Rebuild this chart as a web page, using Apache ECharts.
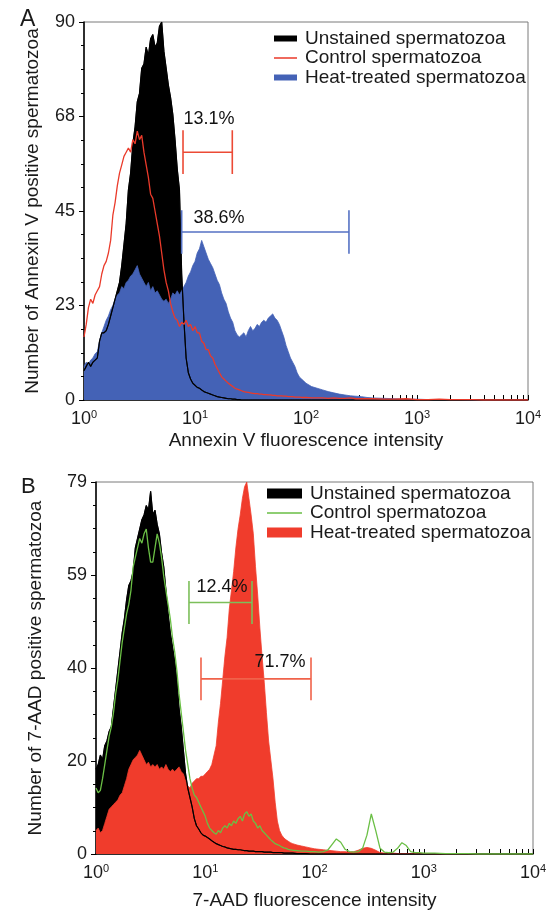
<!DOCTYPE html>
<html>
<head>
<meta charset="utf-8">
<script src="https://cdn.jsdelivr.net/npm/echarts@6/dist/echarts.min.js"></script>
<style>
  html, body { margin: 0; padding: 0; background: #fff; }
  #chart { width: 553px; height: 911px; }
</style>
</head>
<body>
<div id="chart"></div>
<script>
// x values are log10 of the fluorescence intensity (channel position)
var chanA = [
  0.00,0.02,0.04,0.06,0.08,0.10,0.12,0.14,0.16,0.18,
  0.20,0.22,0.24,0.26,0.28,0.30,0.32,0.34,0.36,0.38,
  0.40,0.42,0.44,0.46,0.48,0.50,0.52,0.54,0.56,0.58,
  0.60,0.62,0.64,0.66,0.68,0.70,0.72,0.74,0.76,0.78,
  0.80,0.82,0.84,0.86,0.88,0.90,0.92,0.94,0.96,0.98,
  1.00,1.02,1.04,1.06,1.08,1.10,1.12,1.14,1.16,1.18,
  1.20,1.22,1.24,1.26,1.28,1.30,1.32,1.34,1.36,1.38,
  1.40,1.42,1.44,1.46,1.48,1.50,1.52,1.54,1.56,1.58,
  1.60,1.62,1.64,1.66,1.68,1.70,1.72,1.74,1.76,1.78,
  1.80,1.82,1.84,1.86,1.88,1.90,1.92,1.94,1.96,1.98,
  2.00,2.05,2.10,2.15,2.20,2.25,2.30,2.35,2.40,2.45,
  2.50,2.55,2.60,2.70,2.80,2.90,3.00,3.10,3.20,3.30,
  3.40,3.50,3.60,3.70,3.80,3.90,4.00
];
var unstainedA = [
  7,8,9,8,9,9.5,10,14,16,16,
  16.5,18,20,22,24,26,28,32,37,42,
  50,54,61,65,71,73,79,80,84,82,
  86,87,84,85,89,90,83,79,75,72,
  68,62,55,50,30,19,10,6.5,5,4,
  3.5,3,2.8,2.4,2,1.8,1.6,1.4,1.2,1,
  0.8,0.7,0.6,0.5,0.4,0.3,0.3,0.2,0.2,0.1,
  0.1,0,0,0,0,0,0,0,0,0,
  0,0,0,0,0,0,0,0,0,0,
  0,0,0,0,0,0,0,0,0,0,
  0,0,0,0,0,0,0,0,0,0,
  0,0,0,0,0,0,0,0,0,0,
  0,0,0,0,0,0,0
];
var controlA = [
  15,18,22,24,23,25,26,27,30,32,
  33,35,38,44,47,51,54,56,58,59,
  60,59,62,61,64,62,63,59,56,53,
  49,48,45,42,39,35,31,28,26,23,
  21,19.5,19,17.5,18.5,18,19,17.5,18,16.5,
  17.5,16,16,14,13.5,12,12,10.5,10,8.5,
  7.5,6.5,5.5,5,4.5,4,3.6,3.2,2.8,2.6,
  2.4,2.2,2,1.9,1.8,1.7,1.6,1.5,1.5,1.4,
  1.4,1.3,1.3,1.2,1.2,1.1,1.1,1,1,1,
  0.9,0.9,0.8,0.8,0.8,0.7,0.7,0.7,0.6,0.6,
  0.6,0.5,0.5,0.5,0.4,0.5,0.4,0.4,0.5,0.3,
  0.3,0.3,0.3,0.2,0.2,0.3,0.1,0.1,0.2,0.1,
  0.1,0.1,0,0,0,0,0
];
var heatA = [
  8,9,8.5,9.5,10,11,11.5,14,16,17.5,
  19,20,21.5,22.5,24,25,25.5,27,26.5,28,
  28.5,29.5,30,31,32,30,29,28,27,28,
  26,27,25.5,26,25,24,23.5,24,23,24,
  25.5,25,26,25,26,27,28,29.5,30.5,32,
  33,35,36,38,36.5,35,33.5,32.5,31.5,30,
  28.5,27.5,25.5,24,23,21,19.5,18.5,16.5,15.5,
  15,15.5,16,15,16.5,17.5,16.5,17,18,17.5,
  18.5,19,18.5,19.5,20,20.5,19.5,19,18,16.5,
  15,13,11.5,10,9,8,6.5,5.5,5,4.5,
  4,3.2,2.8,2.4,2,1.7,1.4,1.2,1,0.9,
  0.8,0.6,0.5,0.4,0.3,0.2,0.2,0.1,0.1,0.1,
  0.1,0,0,0,0,0,0
];

var chanB = [
  0.00,0.02,0.04,0.06,0.08,0.10,0.12,0.14,0.16,0.18,
  0.20,0.22,0.24,0.26,0.28,0.30,0.32,0.34,0.36,0.38,
  0.40,0.42,0.44,0.46,0.48,0.50,0.52,0.54,0.56,0.58,
  0.60,0.62,0.64,0.66,0.68,0.70,0.72,0.74,0.76,0.78,
  0.80,0.82,0.84,0.86,0.88,0.90,0.92,0.94,0.96,0.98,
  1.00,1.02,1.04,1.06,1.08,1.10,1.12,1.14,1.16,1.18,
  1.20,1.22,1.24,1.26,1.28,1.30,1.32,1.34,1.36,1.38,
  1.40,1.42,1.44,1.46,1.48,1.50,1.52,1.54,1.56,1.58,
  1.60,1.62,1.64,1.66,1.68,1.70,1.72,1.74,1.76,1.78,
  1.80,1.84,1.88,1.92,1.96,2.00,2.04,2.08,2.12,2.16,
  2.20,2.24,2.28,2.32,2.36,2.40,2.44,2.48,2.52,2.56,
  2.60,2.64,2.68,2.72,2.76,2.80,2.84,2.88,2.92,2.96,
  3.00,3.10,3.20,3.30,3.40,3.50,3.60,3.70,3.80,3.90,
  4.00
];
var unstainedB = [
  18,19,21,20,23,24,26,27,31,35,
  39,43,47,50,54,57,58,60,65,67,
  69,71,72,74,73,77,72,73,70,68,
  64,61,56,51,47,44,41,37,31,27,
  22,17,14,12,10,7.5,6,5.3,4.5,4,
  3.8,3.5,3.2,2.8,2.5,2.2,2,1.8,1.6,1.5,
  1.3,1.2,1.1,1,1,0.9,0.9,0.8,0.7,0.7,
  0.6,0.6,0.6,0.5,0.5,0.5,0.5,0.4,0.4,0.4,
  0.4,0.3,0.3,0.3,0.3,0.3,0.2,0.2,0.2,0.2,
  0.2,0.1,0.1,0.1,0,0,0,0,0,0,
  0,0,0,0,0,0,0,0,0,0,
  0,0,0,0,0,0,0,0,0,0,
  0,0,0,0,0,0,0,0,0,0,
  0
];
var controlB = [
  14,13,13.5,16,19,22,25,27,30,34,
  37,41,45,48,51,53,56,61,63,65,
  67,66,68,69,65,62,62,65,68,66,
  63,59,56,53,50,46,43,39,34,30,
  26,22,19,16,14,12.5,12,11,10,9,
  8,6.5,5.5,5,4.5,4.2,5,4.5,5.5,6,
  5.5,6.5,6,7,6.5,7.5,8,7,8.5,9,
  8,8.5,7,6.5,5.5,6,5,4.5,4,3.5,
  3,2.6,2.2,2,1.8,1.5,1.3,1.2,1,0.9,
  0.8,0.7,0.6,0.6,0.5,0.5,0.4,0.5,0.8,2,
  3.2,2.5,1,0.5,0.4,0.5,1.2,4,8.5,5,
  1.2,0.4,0.3,0.4,1.2,2.4,1.8,0.5,0.3,0.3,
  0.2,0.2,0.1,0.1,0.1,0,0,0,0,0,
  0
];
var heatB = [
  5,5.5,4.5,5,6.5,8,9.5,10,10.5,11,
  11.5,12.5,13,14.5,16,18,19,20,20.5,21,
  22,21,20,19,19.5,18.5,19,18.5,19,18,
  18.5,18,19,18,17.5,18,17.5,18,18.5,17.5,
  17,15.5,14.5,14,15,15.5,16,16,16.5,16.5,
  17,17.5,18,19,21,23,28,32,37,42,
  46,52,56,60,65,69,72,75.5,78,79,
  75.5,72,68,61,55,48,42,36.5,30,24,
  20,16,11,7,5,4,3.4,3,2.7,2.4,
  2.2,1.9,1.7,1.5,1.3,1.1,1,0.9,0.8,0.7,
  0.6,0.5,0.5,0.4,0.5,0.8,1.2,1.4,1.2,0.8,
  0.3,0.2,0.2,0.2,0.1,0.1,0.1,0.1,0.1,0.1,
  0.1,0,0,0,0,0,0,0,0,0,
  0
];

// gates (log10 x, counts) and their percentages
var gateLeftA = [0.892, 0.880];
var gateRightA = [1.336, 2.387];
var gateLevelA = [59, 40];
var gateCapA = [5.2, 5.2];
var gateTextA = ['13.1%', '38.6%'];
var gateTextXA = [1.126, 1.216];
var gateTextYA = [66.9, 43.3];

var gateLeftB = [0.851, 0.961];
var gateRightB = [1.428, 1.968];
var gateLevelB = [53.4, 37.2];
var gateCapB = [4.55, 4.55];
var gateTextB = ['12.4%', '71.7%'];
var gateTextXB = [1.153, 1.684];
var gateTextYB = [56.6, 40.8];

var seriesLabels = ['Unstained spermatozoa', 'Control spermatozoa', 'Heat-treated spermatozoa'];
var xTickLabels = ['0', '1', '2', '3', '4'];
var yTicksA = ['0', '23', '45', '68', '90'];
var yTicksB = ['0', '20', '40', '59', '79'];

var FONT = 'Liberation Sans, Arial, Helvetica, sans-serif';
var TXT = '#1a1a1a';

// decade ticks plus 2..9 minor ticks of a log axis
var xTickValues = [];
for (var d = 0; d < 4; d++) {
  for (var k = 1; k <= 9; k++) xTickValues.push(d + Math.log10(k));
}
xTickValues.push(4);

function pairs(xs, ys) {
  return xs.map(function (x, i) { return [x, ys[i]]; });
}

function areaSeries(name, idx, xs, ys, color) {
  return {
    name: name, type: 'line', xAxisIndex: idx, yAxisIndex: idx,
    data: pairs(xs, ys), symbol: 'none', silent: true,
    lineStyle: { color: color, width: 0.8 },
    itemStyle: { color: color },
    areaStyle: { color: color, opacity: 1 }
  };
}

function lineSeries(name, idx, xs, ys, color, width) {
  return {
    name: name, type: 'line', xAxisIndex: idx, yAxisIndex: idx,
    data: pairs(xs, ys), symbol: 'none', silent: true,
    lineStyle: { color: color, width: width },
    itemStyle: { color: color }
  };
}

function gateSeries(idx, l, r, lvl, cap, color) {
  return {
    type: 'line', xAxisIndex: idx, yAxisIndex: idx, symbol: 'none', silent: true,
    data: [[l, lvl - cap], [l, lvl + cap], [l, lvl], [r, lvl], [r, lvl + cap], [r, lvl - cap]],
    lineStyle: { color: color, width: 1.6 }, z: 5
  };
}

function gateLabels(idx, texts, xs, ys) {
  return {
    type: 'scatter', xAxisIndex: idx, yAxisIndex: idx, silent: true, z: 6,
    symbolSize: 0, itemStyle: { color: '#000', opacity: 1 },
    data: texts.map(function (t, i) { return { name: t, value: [xs[i], ys[i]] }; }),
    label: {
      show: true, position: [0, 0], align: 'center', verticalAlign: 'middle',
      formatter: '{b}', fontFamily: FONT, fontSize: 18, color: '#111',
      textBorderWidth: 0, opacity: 1
    }
  };
}

function xAxisFor(idx, name, gap) {
  return {
    type: 'value', gridIndex: idx, min: 0, max: 4, interval: 1,
    name: name, nameLocation: 'middle', nameGap: gap,
    nameTextStyle: { fontFamily: FONT, fontSize: 19, color: TXT },
    axisLine: { show: true, onZero: false, lineStyle: { color: '#000', width: 1.5 } },
    axisTick: { show: true, inside: true, length: 5, customValues: xTickValues, lineStyle: { color: '#000' } },
    axisLabel: {
      margin: 9,
      formatter: function (v) { return '{b|10}{s|' + xTickLabels[Math.round(v)] + '}'; },
      rich: {
        b: { fontFamily: FONT, fontSize: 18, color: TXT, lineHeight: 20 },
        s: { fontFamily: FONT, fontSize: 11, color: TXT, lineHeight: 11, verticalAlign: 'top' }
      }
    },
    splitLine: { show: false }
  };
}

function yAxisFor(idx, name, gap, max, step, labels) {
  return {
    type: 'value', gridIndex: idx, min: 0, max: max, interval: step,
    name: name, nameLocation: 'middle', nameGap: gap,
    nameTextStyle: { fontFamily: FONT, fontSize: 19, color: TXT },
    axisLine: { show: true, onZero: false, lineStyle: { color: '#000', width: 1.5 } },
    axisTick: { show: true, length: 5, lineStyle: { color: '#000' } },
    minorTick: { show: true, splitNumber: 4, length: 3, lineStyle: { color: '#000' } },
    axisLabel: {
      margin: 9, fontFamily: FONT, fontSize: 18, color: TXT,
      formatter: function (v, i) { return labels[i]; }
    },
    splitLine: { show: false }
  };
}

// thin horizontal bar as the line-series legend icon (bbox padded to icon height)
function lineIcon(w, h) {
  var a = (h - 1.3) / 2, b = a + 1.3;
  return 'path://M0,0 L0.01,0 M0,' + a + ' L' + w + ',' + a + ' L' + w + ',' + b +
    ' L0,' + b + ' Z M' + w + ',' + h + ' L' + (w - 0.01) + ',' + h;
}

function legendFor(prefix, left, top, iw, ih) {
  return {
    left: left, top: top, orient: 'vertical', padding: 0, itemGap: 0.5,
    itemWidth: iw, itemHeight: ih, selectedMode: false,
    formatter: function (n) { return n.slice(prefix.length); },
    textStyle: { fontFamily: FONT, fontSize: 19, lineHeight: 19, color: TXT, padding: [0, 0, 0, 3] },
    data: [
      { name: prefix + seriesLabels[0], icon: 'rect' },
      { name: prefix + seriesLabels[1], icon: lineIcon(iw, ih) },
      { name: prefix + seriesLabels[2], icon: 'rect' }
    ]
  };
}

var nA = seriesLabels.map(function (s) { return 'A ' + s; });
var nB = seriesLabels.map(function (s) { return 'B ' + s; });

var chart = echarts.init(document.getElementById('chart'));
chart.setOption({
  animation: false,
  backgroundColor: '#fff',
  title: [
    { text: 'A', left: 15, top: 3, textStyle: { fontFamily: FONT, fontSize: 23, fontWeight: 'normal', color: TXT } },
    { text: 'B', left: 16, top: 471, textStyle: { fontFamily: FONT, fontSize: 22, fontWeight: 'normal', color: TXT } }
  ],
  grid: [
    { left: 84, top: 22, width: 444, height: 378, show: true, borderColor: '#7a7a7a', borderWidth: 1 },
    { left: 96, top: 482, width: 437, height: 374, show: true, borderColor: '#7a7a7a', borderWidth: 1 }
  ],
  legend: [
    legendFor('A ', 274, 29, 23, 6),
    legendFor('B ', 267, 484, 35, 10)
  ],
  xAxis: [
    xAxisFor(0, 'Annexin V fluorescence intensity', 31),
    xAxisFor(1, '7-AAD fluorescence intensity', 37)
  ],
  yAxis: [
    yAxisFor(0, 'Number of Annexin V positive spermatozoa', 42, 90, 22.5, yTicksA),
    yAxisFor(1, 'Number of 7-AAD positive spermatozoa', 51, 79, 19.75, yTicksB)
  ],
  series: [
    areaSeries(nA[0], 0, chanA, unstainedA, '#000000'),
    areaSeries(nA[2], 0, chanA, heatA, '#4462b6'),
    lineSeries(nA[0], 0, chanA, unstainedA, '#000000', 1.2),
    lineSeries(nA[1], 0, chanA, controlA, '#ea3a2a', 1.3),
    gateSeries(0, gateLeftA[0], gateRightA[0], gateLevelA[0], gateCapA[0], '#ec4a35'),
    gateSeries(0, gateLeftA[1], gateRightA[1], gateLevelA[1], gateCapA[1], '#5572c4'),
    gateLabels(0, gateTextA, gateTextXA, gateTextYA),

    areaSeries(nB[0], 1, chanB, unstainedB, '#000000'),
    areaSeries(nB[2], 1, chanB, heatB, '#f03c2c'),
    lineSeries(nB[0], 1, chanB, unstainedB, '#000000', 1.2),
    lineSeries(nB[1], 1, chanB, controlB, '#6abf45', 1.3),
    gateSeries(1, gateLeftB[0], gateRightB[0], gateLevelB[0], gateCapB[0], '#7cbf5a'),
    gateSeries(1, gateLeftB[1], gateRightB[1], gateLevelB[1], gateCapB[1], '#f0624a'),
    gateLabels(1, gateTextB, gateTextXB, gateTextYB)
  ]
});
</script>
</body>
</html>
